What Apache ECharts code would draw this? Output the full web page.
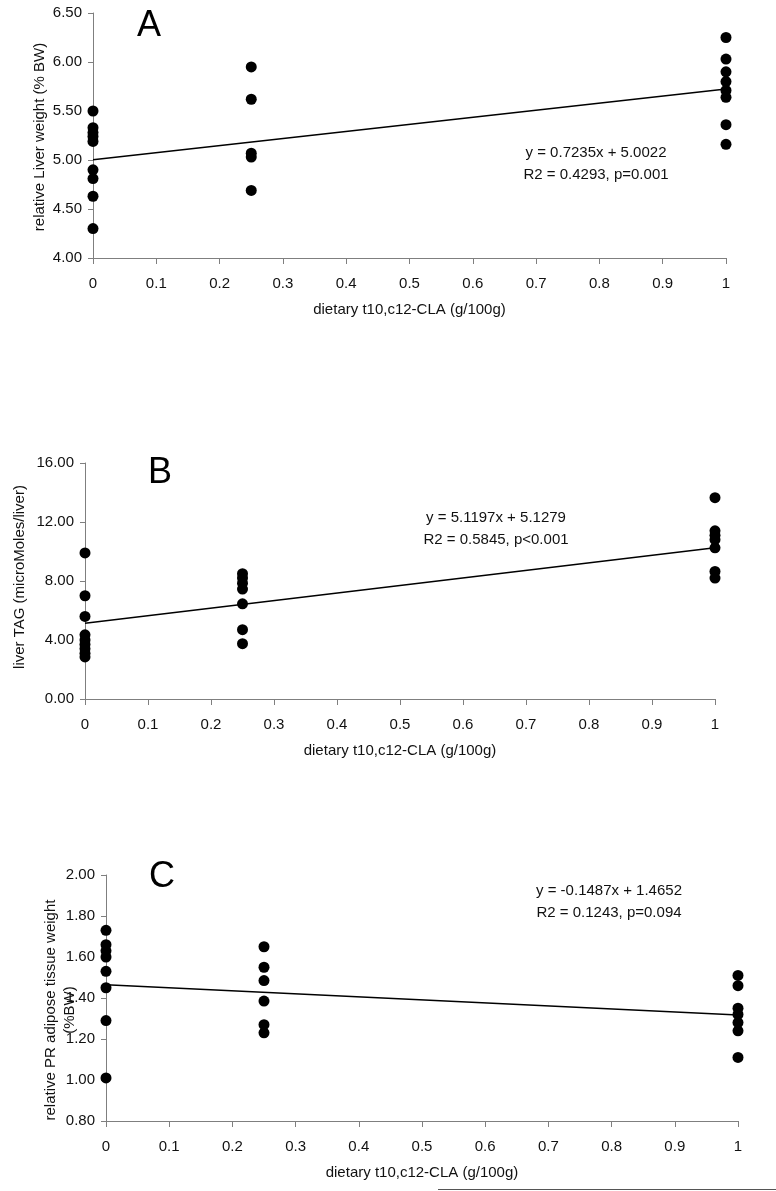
<!DOCTYPE html>
<html>
<head>
<meta charset="utf-8">
<script src="https://cdn.jsdelivr.net/npm/echarts@6/dist/echarts.min.js"></script>
<style>
html,body{margin:0;padding:0;background:#fff;}
#chart{width:776px;height:1191px;}
</style>
</head>
<body>
<div id="chart"></div>
<script>
// ---- data ----
const doses = [0, 0.25, 1];
// Panel A: relative liver weight (% BW)
const liverWt_0 = [5.50, 5.33, 5.28, 5.24, 5.19, 4.90, 4.81, 4.63, 4.30];
const liverWt_025 = [5.95, 5.62, 5.07, 5.03, 4.69];
const liverWt_1 = [6.25, 6.03, 5.90, 5.80, 5.71, 5.64, 5.36, 5.16];
const trendA = [[0, 5.0022], [1, 5.7257]];
const eqA = ["y = 0.7235x + 5.0022", "R2 = 0.4293, p=0.001"];
// Panel B: liver TAG (microMoles/liver)
const tag_0 = [9.9, 7.0, 5.6, 4.35, 4.0, 3.7, 3.4, 3.1, 2.85];
const tag_025 = [8.5, 8.2, 7.85, 7.45, 6.45, 4.7, 3.75];
const tag_1 = [13.65, 11.4, 11.1, 10.8, 10.25, 8.65, 8.2];
const trendB = [[0, 5.1279], [1, 10.2476]];
const eqB = ["y = 5.1197x + 5.1279", "R2 = 0.5845, p<0.001"];
// Panel C: relative PR adipose tissue weight (%BW)
const pr_0 = [1.73, 1.66, 1.63, 1.60, 1.53, 1.45, 1.29, 1.01];
const pr_025 = [1.65, 1.55, 1.485, 1.385, 1.27, 1.23];
const pr_1 = [1.51, 1.46, 1.35, 1.32, 1.28, 1.24, 1.11];
const trendC = [[0, 1.4652], [1, 1.3165]];
const eqC = ["y = -0.1487x + 1.4652", "R2 = 0.1243, p=0.094"];

const xTitle = "dietary t10,c12-CLA (g/100g)";
const yTitles = ["relative Liver weight (% BW)", "liver TAG (microMoles/liver)", "relative PR adipose tissue weight\n(%BW)"];
const panelLetters = ["A", "B", "C"];
const yRanges = [[4, 6.5, 0.5], [0, 16, 4], [0.8, 2.0, 0.2]];

function pairs(groups) {
  const out = [];
  groups.forEach((vals, i) => vals.forEach(v => out.push([doses[i], v])));
  return out;
}
const scatterData = [
  pairs([liverWt_0, liverWt_025, liverWt_1]),
  pairs([tag_0, tag_025, tag_1]),
  pairs([pr_0, pr_025, pr_1])
];
const trends = [trendA, trendB, trendC];
const eqs = [eqA, eqB, eqC];

// ---- layout ----
const FONT = '"Liberation Sans", Arial, sans-serif';
const grids = [
  {left: 93, top: 13, width: 633, height: 245},
  {left: 85, top: 463, width: 630, height: 236},
  {left: 106, top: 875, width: 632, height: 246}
];
const axisColor = '#7f7f7f';
const textColor = '#111';

const option = {
  backgroundColor: '#fff',
  animation: false,
  grid: grids,
  xAxis: grids.map((g, i) => ({
    gridIndex: i, type: 'value', min: 0, max: 1, interval: 0.1,
    name: xTitle, nameLocation: 'middle', nameGap: 44,
    nameTextStyle: {fontFamily: FONT, fontSize: 15, color: textColor},
    axisLine: {show: true, onZero: false, lineStyle: {color: axisColor, width: 1}},
    axisTick: {show: true, length: 6, lineStyle: {color: axisColor}},
    axisLabel: {margin: 18, fontFamily: FONT, fontSize: 15, color: textColor,
      formatter: v => String(Math.round(v * 10) / 10)},
    splitLine: {show: false}
  })),
  yAxis: grids.map((g, i) => ({
    gridIndex: i, type: 'value', min: yRanges[i][0], max: yRanges[i][1], interval: yRanges[i][2],
    axisLine: {show: true, onZero: false, lineStyle: {color: axisColor, width: 1}},
    axisTick: {show: true, length: 5, lineStyle: {color: axisColor}},
    axisLabel: {margin: 11, fontFamily: FONT, fontSize: 15, color: textColor,
      formatter: v => v.toFixed(2)},
    splitLine: {show: false}
  })),
  series: [],
  graphic: []
};

for (let i = 0; i < 3; i++) {
  option.series.push({
    type: 'line', xAxisIndex: i, yAxisIndex: i, data: trends[i],
    symbol: 'none', lineStyle: {color: '#000', width: 1.5}, z: 2, silent: true
  });
  option.series.push({
    type: 'scatter', xAxisIndex: i, yAxisIndex: i, data: scatterData[i],
    symbol: 'circle', symbolSize: 11, itemStyle: {color: '#000', opacity: 1}, z: 3
  });
}

// text annotations
const letterPos = [[137, 8], [148, 455], [149, 859]];
const eqPos = [[596, 164], [496, 529], [609, 902]];
const yTitlePos = [[40, 137], [20, 577], [60, 1010]];
for (let i = 0; i < 3; i++) {
  option.graphic.push({
    type: 'text', left: letterPos[i][0], top: letterPos[i][1],
    style: {text: panelLetters[i], font: '36px ' + FONT, fill: '#000'}
  });
  option.graphic.push({
    type: 'text', x: eqPos[i][0], y: eqPos[i][1],
    style: {text: eqs[i].join('\n'), font: '15px ' + FONT, fill: textColor,
      textAlign: 'center', textVerticalAlign: 'middle', lineHeight: 22}
  });
  option.graphic.push({
    type: 'text', x: yTitlePos[i][0], y: yTitlePos[i][1], rotation: Math.PI / 2,
    style: {text: yTitles[i], font: '15px ' + FONT, fill: textColor,
      textAlign: 'center', textVerticalAlign: 'middle', lineHeight: 19}
  });
}
option.graphic.push({
  type: 'line', shape: {x1: 438, y1: 1189.5, x2: 776, y2: 1189.5},
  style: {stroke: '#555', lineWidth: 1}
});

const chart = echarts.init(document.getElementById('chart'), null, {renderer: 'canvas'});
chart.setOption(option);
</script>
</body>
</html>
